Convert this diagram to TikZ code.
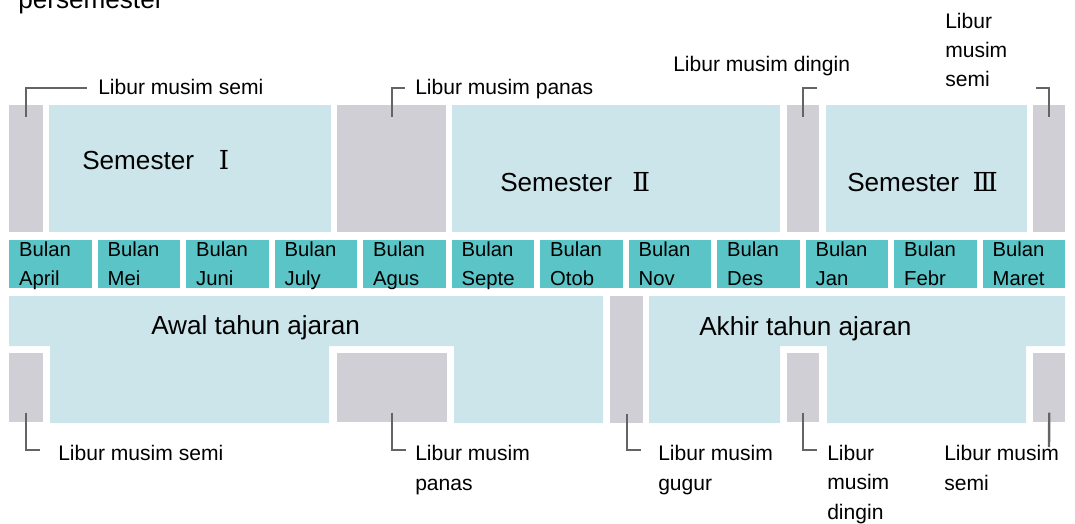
\documentclass[tikz,border=0pt]{standalone}
\usepackage{fontspec}
\setmainfont{Liberation Sans}
\newfontfamily\numfont{DejaVu Serif}
\definecolor{lightteal}{RGB}{204,229,234}
\definecolor{monthteal}{RGB}{91,196,198}
\definecolor{holgray}{RGB}{208,207,213}
\definecolor{leadgray}{RGB}{100,100,100}
\begin{document}
\begin{tikzpicture}[x=0.75pt,y=-0.75pt,
        hol/.style={fill=holgray,inner sep=0,anchor=north west},
        month/.style={fill=monthteal,anchor=north west,minimum width=61.875pt,minimum height=36pt,
            inner xsep=7.4pt,inner ysep=0,text width=47pt,text height=12.3pt,text depth=23.7pt,
            align=left,font=\fontsize{15.2}{21.75}\selectfont},
        lbl/.style={anchor=base west,inner sep=0,align=left,font=\fontsize{15.8}{22.1}\selectfont},
        big/.style={anchor=base west,inner sep=0,font=\fontsize{19.6}{24}\selectfont},
        lead/.style={leadgray,line width=1.8pt}]
        \useasboundingbox (0,0) rectangle (1075,524);
        \clip (0,0) rectangle (1075,524);
        \fill[lightteal](49,105) rectangle (331,232);
        \fill[lightteal](452,105) rectangle (780,232);
        \fill[lightteal](826,105) rectangle (1027,232);
        \fill[lightteal](9,296)--(603,296)--(603,423)--(454,423)--(454,346)--(329,346)--(329,423)--(50,423)--(50,346)--(9,346)--cycle;
        \fill[lightteal](649,296)--(1065,296)--(1065,346)--(1026,346)--(1026,423)--(827,423)--(827,346)--(780,346)--(780,423)--(649,423)--cycle;
        \foreach \n/\x/\y/\w/\h in {
                t1/9/105/34/127, t2/337/105/109/127, t3/787/105/32/127, t4/1033/105/32/127,
                b1/9/353/34/69, b2/337/353/110/69, b3/610/296/33/127, b4/787/353/32/69, b5/1033/353/32/69}
            {
                \node[hol,minimum width=\w*0.75pt,minimum height=\h*0.75pt] (\n) at (\x,\y) {};
            }
        \foreach \m [count=\i] in {April,Mei,Juni,July,Agus,Septe,Otob,Nov,Des,Jan,Febr,Maret}
            {
                \node[month] (m\i) at ({9+(\i-1)*88.5},240) {Bulan\\\m};
            }
        \node[big] (pers) at (18,9) {persemester};
        \node[big] (s1) at (82,170) {Semester\hspace{0.95em}{\numfont Ⅰ}};
        \node[big] (s2) at (500,192) {Semester\hspace{0.78em}{\numfont Ⅱ}};
        \node[big] (s3) at (847,192) {Semester\hspace{0.52em}{\numfont Ⅲ}};
        \node[big] (awal) at (151,334) {Awal tahun ajaran};
        \node[big] (akhir) at (699,335) {Akhir tahun ajaran};
        \node[lbl] (l1) at (98,95) {Libur musim semi};
        \node[lbl] (l2) at (415,95) {Libur musim panas};
        \node[lbl] (l3) at (673,72) {Libur musim dingin};
        \node[lbl] (l4) at (945,87) {Libur\\musim\\semi};
        \node[lbl] (l5) at (58,460) {Libur musim semi};
        \node[lbl] (l6) at (415,490) {Libur musim\\panas};
        \node[lbl] (l7) at (658,490) {Libur musim\\gugur};
        \node[lbl] (l8) at (827,519) {Libur\\musim\\dingin};
        \node[lbl] (l9) at (944,490) {Libur musim\\semi};
        \coordinate (c1) at (87,88);
        \coordinate (c2) at (405,88);
        \coordinate (c3) at (817,88);
        \coordinate (c4) at (1036,88);
        \coordinate (d1) at (40,450);
        \coordinate (d2) at (406,450);
        \coordinate (d3) at (641,450);
        \coordinate (d4) at (817,450);
        \coordinate (d5) at (1049,447);
        \draw[lead](t1.north)++(0,12)|-(c1);
        \draw[lead](t2.north)++(0,12)|-(c2);
        \draw[lead](t3.north)++(0,12)|-(c3);
        \draw[lead](t4.north)++(0,12)|-(c4);
        \draw[lead](b1.south)++(0,-10)|-(d1);
        \draw[lead](b2.south)++(0,-10)|-(d2);
        \draw[lead](b3.south)++(0,-10)|-(d3);
        \draw[lead](b4.south)++(0,-10)|-(d4);
        \draw[lead](b5.south)++(0,-10)--(d5);
    \end{tikzpicture}
\end{document}
